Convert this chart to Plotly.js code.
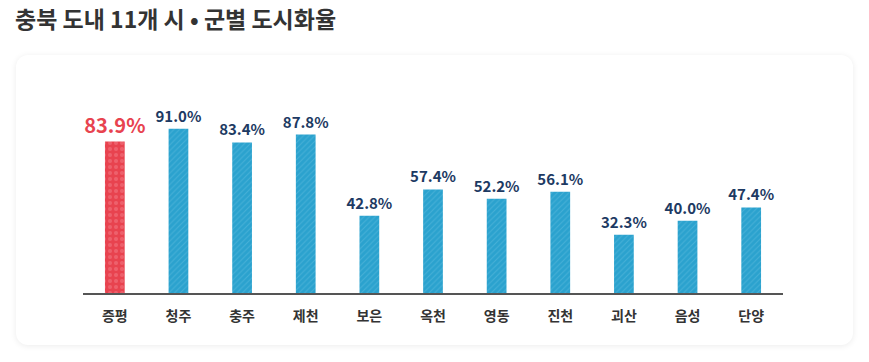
<!DOCTYPE html>
<html><head><meta charset="utf-8">
<script src="https://cdn.plot.ly/plotly-3.0.1.min.js"></script>
<style>
html,body{margin:0;padding:0;background:#fff;width:869px;height:362px;overflow:hidden;}
#card{position:absolute;left:16px;top:55px;width:837px;height:290px;background:#fff;border-radius:12px;box-shadow:0 1px 6px rgba(0,0,0,0.08);}
#chart{position:absolute;left:0;top:0;width:869px;height:362px;}
</style></head>
<body>
<div id="card"></div>
<div id="chart"></div>
<script>
const categories = ['증평','청주','충주','제천','보은','옥천','영동','진천','괴산','음성','단양'];
const rates = [83.9, 91.0, 83.4, 87.8, 42.8, 57.4, 52.2, 56.1, 32.3, 40.0, 47.4];
const highlight = '증평';

const isHi = categories.map(c => c === highlight);
const fontFam = 'Noto Sans CJK KR, Noto Sans, sans-serif';

function makeTrace(selectHi) {
  const ys = rates.map((v, i) => isHi[i] === selectHi ? v : null);
  return {
    type: 'bar',
    x: categories,
    y: ys,
    width: 0.31,
    marker: {
      color: selectHi ? '#E8434F' : '#2BA2CE',
      line: {width: 0},
      pattern: {
        fillmode: 'overlay',
        shape: selectHi ? '.' : '/',
        fgcolor: selectHi ? '#F27F89' : '#63BEDE',
        size: selectHi ? 6 : 4,
        solidity: selectHi ? 0.35 : 0.25
      }
    },
    text: ys.map(v => v === null ? '' : '<b>' + v.toFixed(1) + '%</b>'),
    textposition: 'outside',
    constraintext: 'none',
    textfont: {
      family: fontFam,
      size: selectHi ? 20 : 15,
      color: selectHi ? '#E8434F' : '#1D3A63'
    },
    cliponaxis: false,
    hoverinfo: 'skip'
  };
}

const layout = {
  width: 869, height: 362,
  margin: {l: 83, r: 86, t: 62, b: 69},
  paper_bgcolor: 'rgba(0,0,0,0)',
  plot_bgcolor: 'rgba(0,0,0,0)',
  showlegend: false,
  barmode: 'overlay',
  title: {
    text: '<b>충북 도내 11개 시 • 군별 도시화율</b>',
    font: {family: fontFam, size: 23, color: '#333'},
    xref: 'container', yref: 'container',
    x: 15/869, xanchor: 'left',
    y: 1 - 20/362, yanchor: 'middle'
  },
  xaxis: {
    type: 'category',
    categoryorder: 'array', categoryarray: categories,
    range: [-0.5, 10.5],
    showline: true, linecolor: '#555', linewidth: 1.5,
    ticks: '', showgrid: false, zeroline: false,
    tickfont: {family: fontFam, size: 14, color: '#333', weight: 'bold'},
    ticklabelstandoff: 10
  },
  yaxis: {
    range: [0, 128],
    visible: false, showgrid: false, zeroline: false
  }
};

Plotly.newPlot('chart', [makeTrace(true), makeTrace(false)], layout, {displayModeBar: false, staticPlot: true});
</script>
</body></html>
